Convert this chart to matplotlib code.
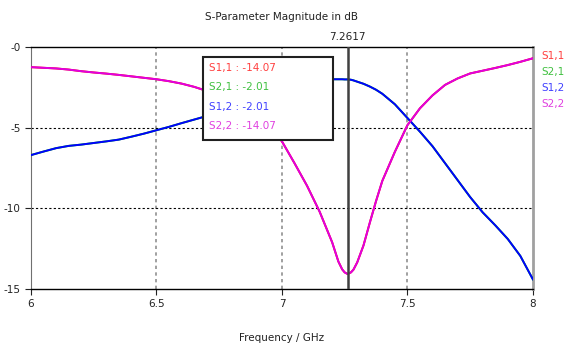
import numpy as np
import matplotlib.pyplot as plt

# frequency points (GHz)
freq = [6.00, 6.05, 6.10, 6.15, 6.20, 6.25, 6.30, 6.35, 6.40, 6.45,
        6.50, 6.55, 6.60, 6.65, 6.70, 6.75, 6.80, 6.85, 6.90, 6.95,
        7.00, 7.05, 7.10, 7.15, 7.20, 7.225, 7.24, 7.25, 7.2617, 7.275,
        7.285, 7.30, 7.325, 7.35, 7.375, 7.40, 7.45, 7.50, 7.55, 7.60,
        7.65, 7.70, 7.75, 7.80, 7.85, 7.90, 7.95, 8.00]

# reflection (S1,1 and S2,2 coincide)
s22 = [-1.25, -1.29, -1.33, -1.40, -1.50, -1.58, -1.65, -1.73, -1.82, -1.91,
       -2.00, -2.12, -2.27, -2.47, -2.72, -3.00, -3.35, -3.80, -4.30, -4.95,
       -5.85, -7.20, -8.60, -10.20, -12.10, -13.30, -13.78, -13.97, -14.07, -13.97,
       -13.80, -13.35, -12.30, -10.90, -9.55, -8.30, -6.50, -4.85, -3.80, -3.00,
       -2.35, -1.95, -1.64, -1.47, -1.30, -1.12, -0.92, -0.70]
s11 = list(s22)

# transmission (S1,2 and S2,1 coincide)
s12 = [-6.70, -6.48, -6.27, -6.13, -6.05, -5.95, -5.85, -5.74, -5.56, -5.37,
       -5.16, -4.95, -4.72, -4.50, -4.28, -3.95, -3.60, -3.25, -2.95, -2.68,
       -2.45, -2.27, -2.13, -2.04, -2.00, -2.00, -2.00, -2.01, -2.01, -2.03,
       -2.07, -2.15, -2.28, -2.45, -2.65, -2.90, -3.55, -4.40, -5.25, -6.15,
       -7.20, -8.25, -9.30, -10.25, -11.05, -11.90, -12.95, -14.40]
s21 = list(s12)

names = ['S1,1', 'S2,1', 'S1,2', 'S2,2']
marker_f = 7.2617
marker_vals = ['-14.07', '-2.01', '-2.01', '-14.07']

line_cols = ['#ff0000', '#00c000', '#0000ff', '#e000e0']
text_cols = ['#ff4040', '#40c040', '#4040ff', '#e040e0']

fig = plt.figure(figsize=(5.69, 3.45), dpi=100)
ax = fig.add_axes([0.0545, 0.1623, 0.882, 0.7015])

for y, c in zip([s11, s21, s12, s22], line_cols):
    ax.plot(freq, y, color=c, lw=1.4, zorder=3)

ax.set_xlim(6, 8)
ax.set_ylim(-15, 0)
ax.set_xticks([6, 6.5, 7, 7.5, 8])
ax.set_xticklabels(['6', '6.5', '7', '7.5', '8'])
ax.set_yticks([0, -5, -10, -15])
ax.set_yticklabels(['-0', '-5', '-10', '-15'])
ax.tick_params(labelsize=7.5, length=4, width=0.8, colors='#222222')

# grid
for xv in [6.5, 7, 7.5]:
    ax.axvline(xv, color='#909090', lw=1.2, ls=(0, (2, 2)), zorder=1)
for yv in [-5, -10]:
    ax.axhline(yv, color='black', lw=0.8, ls=(0, (2, 2)), zorder=1)

for s in ['top', 'bottom']:
    ax.spines[s].set_color('black')
    ax.spines[s].set_linewidth(1.0)
ax.spines['left'].set_color('#707070')
ax.spines['right'].set_color('#a0a0a0')
ax.spines['right'].set_linewidth(2)

# marker line
ax.axvline(marker_f, color='#404040', lw=1.8, zorder=4)
ax.text(marker_f, 0.3, '7.2617', ha='center', va='bottom', fontsize=7.5,
        color='#222222')

# marker readout box
ax.add_patch(plt.Rectangle((6.686, -5.75), 0.516, 5.15,
                           facecolor='white', edgecolor='#202020', lw=1.5,
                           zorder=5))
for i, (n, v) in enumerate(zip(names, marker_vals)):
    ax.text(6.71, -1.32 - i * 1.19, f'{n} : {v}', color=text_cols[i],
            fontsize=7.5, va='center', ha='left', zorder=6)

# legend labels at right
for i, n in enumerate(names):
    fig.text(0.952, 1 - (56 + i * 16) / 345, n, color=text_cols[i],
             fontsize=7.5, va='center', ha='left')

fig.text(0.495, 1 - 17 / 345, 'S-Parameter Magnitude in dB', ha='center',
         va='center', fontsize=7.5, color='#222222')
fig.text(0.495, 1 - 338 / 345, 'Frequency / GHz', ha='center',
         va='center', fontsize=7.5, color='#222222')

fig.savefig('out.png', dpi=100)
